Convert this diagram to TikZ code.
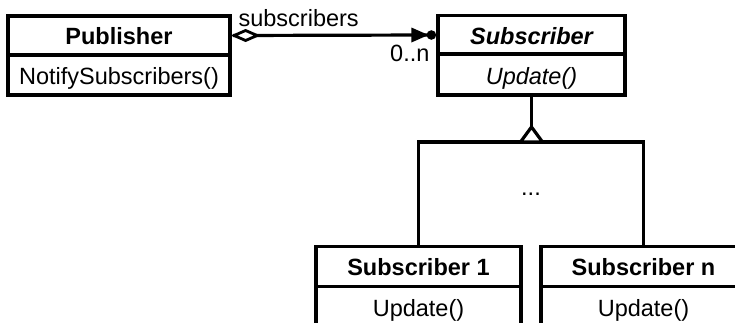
\documentclass[tikz,border=0pt]{standalone}
\usepackage{fontspec}
\setmainfont{Liberation Sans}
\begin{document}
\begin{tikzpicture}[x=1pt,y=-1pt,line width=3.2pt,
  every node/.style={font=\fontsize{23.5}{28}\selectfont},
  part/.style={draw,line width=3.2pt,rectangle,inner sep=0pt,minimum height=40pt,text height=18.5pt,text depth=0pt},
  lbl/.style={inner sep=0pt},
  hollow/.style={draw,fill=white,line join=miter}]
\useasboundingbox (0,0) rectangle (735,322);
\clip (0,0) rectangle (735,322);
% Publisher
\node[part,minimum width=222pt,minimum height=39pt] (pubT) at (119,35.5) {\bfseries Publisher};
\node[part,minimum width=222pt,text height=19.5pt] (pubM) at (119,75) {NotifySubscribers()};
% Subscriber
\node[part,minimum width=187pt,minimum height=39pt] (subT) at (531.5,35) {\bfseries\itshape Subscriber};
\node[part,minimum width=187pt,minimum height=41pt,text height=20pt] (subM) at (531.5,74.5) {\itshape Update()};
% Subscriber 1
\node[part,minimum width=205pt,minimum height=40pt] (s1T) at (418.5,266.5) {\bfseries Subscriber 1};
\node[part,minimum width=205pt,text height=20pt] (s1M) at (418.5,306.5) {Update()};
% Subscriber n
\node[part,minimum width=205pt,minimum height=40pt] (snT) at (643.5,266.5) {\bfseries Subscriber n};
\node[part,minimum width=205pt,text height=20pt] (snM) at (643.5,306.5) {Update()};
% aggregation
\draw ([xshift=1.5pt]pubT.east) -- ([xshift=-8pt]subT.west);
\path[hollow,line width=2.8pt] ([xshift=2.5pt]pubT.east) -- ++(11.5,-5) -- ++(11.5,5) -- ++(-11.5,5) -- cycle;
\fill ([xshift=-8pt]subT.west) -- ++(-17,-7.5) -- ++(0,15) -- cycle;
\fill ([xshift=-5pt]subT.west) circle[radius=4.8pt];
\node[lbl,anchor=base west] (lsub) at (237,26) {subscribers};
\node[lbl,anchor=base east] (lmul) at (431,61) {0..n};
% generalization
\coordinate (jn) at (531.5,142);
\draw (subM.south) -- (jn);
\draw (s1T.north) |- (jn) -| (snT.north);
\path[hollow] (jn) ++(-11,0) -- ++(11,-15) -- ++(11,15) -- cycle;
\node[lbl,anchor=base] (dots) at (531,195) {...};
\end{tikzpicture}
\end{document}
